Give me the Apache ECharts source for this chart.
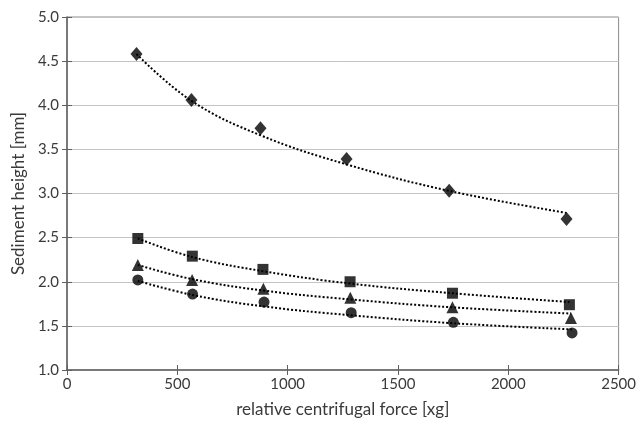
<!DOCTYPE html>
<html><head><meta charset="utf-8">
<script src="https://cdn.jsdelivr.net/npm/echarts@6/dist/echarts.min.js"></script>
<style>html,body{margin:0;padding:0;background:#fff}#c{width:639px;height:427px}</style>
</head><body><div id="c"></div>
<script>
// Measured data points [force, height]
const diamondPts = [[315,4.58],[564,4.06],[877,3.74],[1267,3.39],[1732,3.03],[2264,2.71]];
const squarePts  = [[321,2.49],[568,2.29],[888,2.14],[1283,2.00],[1747,1.87],[2277,1.74]];
const trianglePts= [[321,2.19],[567,2.02],[890,1.92],[1284,1.82],[1747,1.71],[2284,1.59]];
const circlePts  = [[321,2.02],[569,1.86],[893,1.77],[1288,1.65],[1751,1.54],[2289,1.42]];
// Trendline points
const diamondTrend = [[315,4.58],[564,4.05],[877,3.66],[1267,3.33],[1732,3.03],[2264,2.78]];
const squareTrend  = [[321,2.49],[568,2.28],[888,2.12],[1283,1.98],[1747,1.87],[2277,1.77]];
const triangleTrend= [[321,2.19],[567,2.03],[890,1.90],[1284,1.80],[1747,1.71],[2284,1.64]];
const circleTrend  = [[321,2.01],[569,1.85],[893,1.72],[1288,1.62],[1751,1.53],[2289,1.46]];
const xTicks = [0,500,1000,1500,2000,2500];
const yTicks = [1.0,1.5,2.0,2.5,3.0,3.5,4.0,4.5,5.0];

const FONT = 'Lato';
const chart = echarts.init(document.getElementById('c'), null, {renderer:'canvas'});
function trend(d){return {type:'line',data:d,smooth:0.4,symbol:'none',xAxisIndex:0,yAxisIndex:0,
  lineStyle:{color:'#000',width:2,type:[2,2]},z:2,silent:true};}
function pts(d,sym,size){return {type:'scatter',data:d,symbol:sym,symbolSize:size,xAxisIndex:0,yAxisIndex:0,
  itemStyle:{color:'#000'},z:3};}
chart.setOption({
  animation:false,
  grid:{left:67,right:19,top:17,bottom:57,show:true,borderColor:'#8a8a8a',borderWidth:1},
  xAxis:[{type:'value',min:xTicks[0],max:xTicks[xTicks.length-1],interval:500,position:'bottom',
    name:'relative centrifugal force [xg]',nameLocation:'middle',nameGap:31,
    nameTextStyle:{fontFamily:FONT,fontSize:17,color:'#3a3a3a'},
    axisLine:{show:true,lineStyle:{color:'#606060',width:1.5}},
    axisTick:{show:true,length:5,lineStyle:{color:'#606060'}},
    axisLabel:{fontFamily:FONT,fontSize:15,color:'#3a3a3a',margin:7,formatter:v=>String(v)},
    splitLine:{show:false}},
   {type:'value',min:xTicks[0],max:xTicks[xTicks.length-1],interval:500,position:'bottom',
    axisLine:{show:false},axisTick:{show:true,inside:true,length:5,lineStyle:{color:'#606060'}},
    axisLabel:{show:false},splitLine:{show:false}}],
  yAxis:[{type:'value',min:yTicks[0],max:yTicks[yTicks.length-1],interval:0.5,
    name:'Sediment height [mm]',nameLocation:'middle',nameGap:40,nameRotate:90,
    nameTextStyle:{fontFamily:FONT,fontSize:17,color:'#3a3a3a'},
    axisLine:{show:true,lineStyle:{color:'#606060',width:1.5}},
    axisTick:{show:true,length:5,lineStyle:{color:'#606060'}},
    axisLabel:{fontFamily:FONT,fontSize:15,color:'#3a3a3a',margin:8,formatter:v=>v.toFixed(1)},
    splitLine:{show:true,lineStyle:{color:'#c4c4c4',width:1}}},
   {type:'value',min:yTicks[0],max:yTicks[yTicks.length-1],interval:0.5,position:'left',
    axisLine:{show:false},axisTick:{show:true,inside:true,length:5,lineStyle:{color:'#606060'}},
    axisLabel:{show:false},splitLine:{show:false}}],
  series:[
    trend(diamondTrend),trend(squareTrend),trend(triangleTrend),trend(circleTrend),
    pts(diamondPts,'diamond',[12,14]),
    pts(squarePts,'rect',11),
    pts(trianglePts,'triangle',12),
    pts(circlePts,'circle',11)
  ]
});
</script></body></html>
